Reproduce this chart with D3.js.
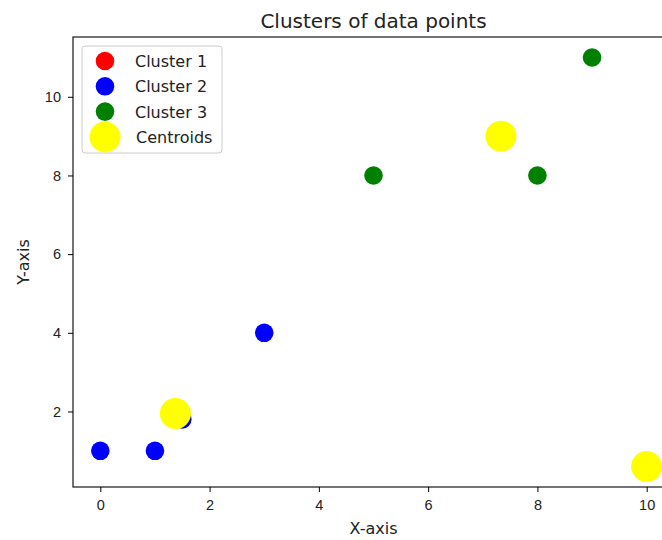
<!DOCTYPE html>
<html>
<head>
<meta charset="utf-8">
<script src="https://cdn.jsdelivr.net/npm/d3@7"></script>
<style>
  body { margin: 0; background: #fff; }
  svg { display: block; font-family: "DejaVu Sans", sans-serif; }
</style>
</head>
<body>
<div id="chart"></div>
<script>
// cluster points
const cluster1X = [10];
const cluster1Y = [0.6];
const cluster2X = [0, 1, 1.5, 3];
const cluster2Y = [1, 1, 1.8, 4];
const cluster3X = [5, 8, 9];
const cluster3Y = [8, 8, 11];
const centroidX = [10, 1.375, 7.333];
const centroidY = [0.6, 1.95, 9];
const xTicks = [0, 2, 4, 6, 8, 10];
const yTicks = [2, 4, 6, 8, 10];
const legendNames = ["Cluster 1", "Cluster 2", "Cluster 3", "Centroids"];
const legendColors = ["red", "blue", "green", "yellow"];

const width = 662, height = 540;
const margin = {top: 37, left: 73, bottom: 53};
const plotRight = 674; // axes runs past the picture edge

const svg = d3.select("#chart").append("svg")
  .attr("width", width)
  .attr("height", height);

let x = d3.scaleLinear().domain([-0.5, 10.5]).range([margin.left, plotRight]);
let y = d3.scaleLinear().domain([0.08, 11.52]).range([height - margin.bottom, margin.top]);

svg.append("text")
  .attr("x", (margin.left + plotRight) / 2)
  .attr("y", 28)
  .attr("text-anchor", "middle")
  .attr("font-size", 20)
  .attr("fill", "#222")
  .text("Clusters of data points");

// axes
svg.append("g")
  .attr("transform", `translate(0,${height - margin.bottom})`)
  .call(d3.axisBottom(x).tickValues(xTicks).tickSize(5).tickPadding(8).tickFormat(d3.format("d")))
  .call(g => g.selectAll("text").attr("font-size", 14.5).attr("fill", "#222"));

svg.append("g")
  .attr("transform", `translate(${margin.left},0)`)
  .call(d3.axisLeft(y).tickValues(yTicks).tickSize(5).tickPadding(7).tickFormat(d3.format("d")))
  .call(g => g.selectAll("text").attr("font-size", 14.5).attr("fill", "#222"));

svg.selectAll(".domain").remove();
svg.append("rect")
  .attr("x", margin.left)
  .attr("y", margin.top)
  .attr("width", plotRight - margin.left)
  .attr("height", height - margin.bottom - margin.top)
  .attr("fill", "none")
  .attr("stroke", "black")
  .attr("stroke-width", 1.1);

svg.append("text")
  .attr("x", (margin.left + plotRight) / 2)
  .attr("y", 534)
  .attr("text-anchor", "middle")
  .attr("font-size", 16)
  .attr("fill", "#222")
  .text("X-axis");

svg.append("text")
  .attr("transform", `translate(29,${(margin.top + height - margin.bottom) / 2}) rotate(-90)`)
  .attr("text-anchor", "middle")
  .attr("font-size", 16)
  .attr("fill", "#222")
  .text("Y-axis");

// points
function drawPoints(xs, ys, color, r) {
  svg.append("g").selectAll("circle")
    .data(xs.map((d, i) => [d, ys[i]]))
    .enter().append("circle")
    .attr("cx", d => x(d[0]))
    .attr("cy", d => y(d[1]))
    .attr("r", r)
    .attr("fill", color);
}
drawPoints(cluster1X, cluster1Y, "red", 9.3);
drawPoints(cluster2X, cluster2Y, "blue", 9.3);
drawPoints(cluster3X, cluster3Y, "green", 9.3);
drawPoints(centroidX, centroidY, "yellow", 15.5);

// legend
let legend = svg.append("g");
legend.append("rect")
  .attr("x", 82).attr("y", 46)
  .attr("width", 140).attr("height", 107)
  .attr("rx", 3)
  .attr("fill", "white").attr("fill-opacity", 0.8)
  .attr("stroke", "#ccc");

legendNames.forEach((name, i) => {
  let ly = 61 + i * 25.3;
  legend.append("circle")
    .attr("cx", 105).attr("cy", ly)
    .attr("r", i == 3 ? 15.5 : 9.3)
    .attr("fill", legendColors[i]);
  legend.append("text")
    .attr("x", i == 3 ? 136 : 135).attr("y", ly + 6)
    .attr("font-size", 16)
    .attr("fill", "#222")
    .text(name);
});
</script>
</body>
</html>
